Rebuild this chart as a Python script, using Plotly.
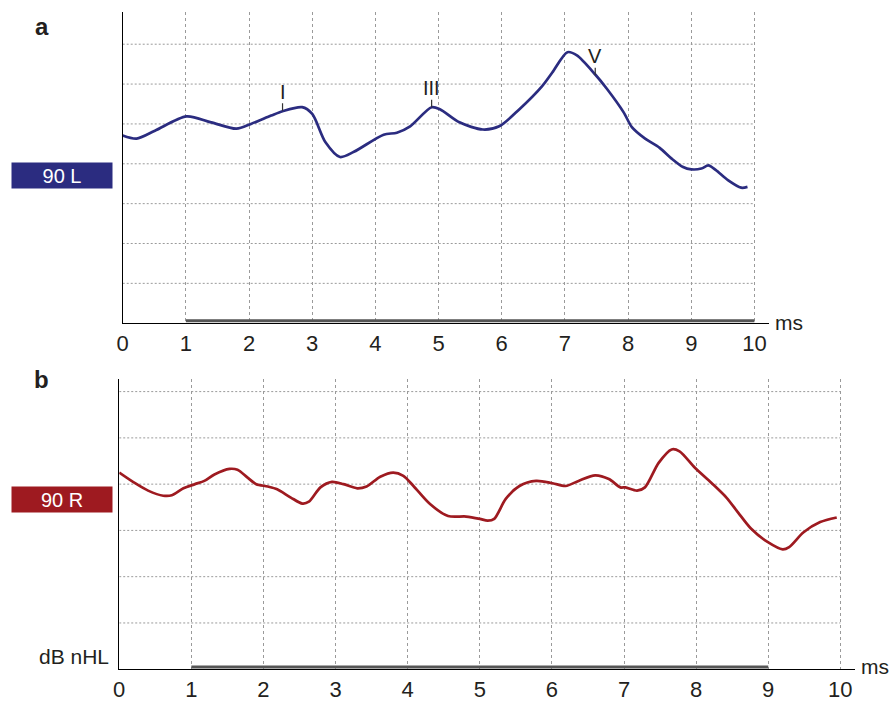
import plotly.graph_objects as go

# ---------------- data ----------------
tick_vals = [0, 1, 2, 3, 4, 5, 6, 7, 8, 9, 10]
tick_text = ["0", "1", "2", "3", "4", "5", "6", "7", "8", "9", "10"]

# panel a (90 dB nHL, left ear)
time_a = [0.0, 0.22, 0.51, 1.01, 1.40, 1.80, 2.03, 2.35, 2.53, 2.84, 3.00, 3.21, 3.44,
          3.66, 4.13, 4.34, 4.55, 4.89, 5.02, 5.33, 5.70, 5.96, 6.28, 6.64, 6.80, 7.04,
          7.19, 7.48, 7.67, 7.93, 8.06, 8.27, 8.50, 8.69, 8.87, 9.00, 9.16, 9.27, 9.39,
          9.58, 9.79, 9.89]
amp_a = [4.71, 4.63, 4.83, 5.19, 5.04, 4.88, 5.00, 5.21, 5.32, 5.42, 5.25, 4.54, 4.17,
         4.30, 4.73, 4.78, 4.94, 5.42, 5.37, 5.04, 4.86, 4.94, 5.37, 5.95, 6.29, 6.80,
         6.72, 6.24, 5.87, 5.29, 4.92, 4.63, 4.40, 4.13, 3.92, 3.86, 3.88, 3.96, 3.84,
         3.59, 3.40, 3.42]

# panel b (90 dB nHL, right ear)
time_b = [0.0, 0.22, 0.40, 0.61, 0.73, 0.89, 1.05, 1.18, 1.32, 1.53, 1.64, 1.78, 1.90,
          2.06, 2.19, 2.38, 2.54, 2.63, 2.79, 2.95, 3.11, 3.30, 3.43, 3.62, 3.80,
          3.94, 4.08, 4.31, 4.56, 4.81, 5.00, 5.11, 5.20, 5.36, 5.55, 5.78, 6.01, 6.19,
          6.37, 6.60, 6.79, 6.95, 7.02, 7.18, 7.29, 7.48, 7.66, 7.77, 7.98, 8.21, 8.42,
          8.58, 8.76, 8.99, 9.20, 9.29, 9.49, 9.72, 9.95]
amp_b = [4.25, 4.02, 3.86, 3.75, 3.76, 3.91, 4.00, 4.07, 4.21, 4.33, 4.31, 4.14, 4.00,
         3.95, 3.89, 3.71, 3.58, 3.62, 3.93, 4.05, 4.00, 3.91, 3.95, 4.16, 4.25,
         4.18, 3.96, 3.57, 3.31, 3.30, 3.25, 3.21, 3.25, 3.68, 3.96, 4.07, 4.02, 3.96,
         4.07, 4.19, 4.11, 3.93, 3.93, 3.86, 3.93, 4.46, 4.75, 4.71, 4.36, 4.03, 3.71,
         3.39, 3.04, 2.75, 2.59, 2.64, 2.96, 3.18, 3.28]

# wave labels in panel a
peak_names = ["I", "III", "V"]
peak_time = [2.53, 4.89, 7.48]
peak_amp = [5.33, 5.42, 6.22]

# analysis windows (ms)
window_a = [1, 10]
window_b = [1, 9]

grid_rows_a = [1, 2, 3, 4, 5, 6, 7]
grid_rows_b = [1, 2, 3, 4, 5, 6]

# ---------------- styling / layout ----------------
W, H = 892, 702
NAVY = "#2b2c80"
RED = "#9e1a20"
GRID = "#9a9a9a"
TXT = "#231f20"
FONT = "Liberation Sans, Arial, sans-serif"


def px_x(p):
    return p / W


def px_y(p):
    return 1 - p / H


fig = go.Figure()

fig.add_trace(go.Scatter(x=time_a, y=amp_a, mode="lines", xaxis="x", yaxis="y",
                         line=dict(color=NAVY, width=2.7, shape="spline", smoothing=0.8),
                         hoverinfo="skip", showlegend=False))
fig.add_trace(go.Scatter(x=time_b, y=amp_b, mode="lines", xaxis="x2", yaxis="y2",
                         line=dict(color=RED, width=2.7, shape="spline", smoothing=0.8),
                         hoverinfo="skip", showlegend=False))

# analysis-window bars just above the time axis
fig.add_trace(go.Scatter(x=window_a, y=[0.06] * 2, mode="lines", xaxis="x", yaxis="y",
                         line=dict(color="#555555", width=3), cliponaxis=False,
                         hoverinfo="skip", showlegend=False))
fig.add_trace(go.Scatter(x=window_b, y=[0.05] * 2, mode="lines", xaxis="x2", yaxis="y2",
                         line=dict(color="#555555", width=3), cliponaxis=False,
                         hoverinfo="skip", showlegend=False))

shapes = []
for k in grid_rows_a:
    shapes.append(dict(type="line", xref="x", yref="y", x0=tick_vals[0], x1=tick_vals[-1],
                       y0=k, y1=k, line=dict(color=GRID, width=1, dash="2px,2px"), layer="below"))
for k in grid_rows_b:
    shapes.append(dict(type="line", xref="x2", yref="y2", x0=tick_vals[0], x1=tick_vals[-1],
                       y0=k, y1=k, line=dict(color=GRID, width=1, dash="2px,2px"), layer="below"))

axis_common = dict(tickvals=tick_vals, ticktext=tick_text, showgrid=True, gridcolor=GRID,
                   griddash="3px,3px", gridwidth=1, showline=True, linecolor="black",
                   linewidth=1, zeroline=False, ticks="", fixedrange=True,
                   tickfont=dict(family=FONT, size=22, color=TXT))
yaxis_common = dict(showgrid=False, showticklabels=False, showline=True, linecolor="black",
                    linewidth=1, zeroline=False, ticks="", fixedrange=True)

# panel a: x0 at 117.5 px, 63.6 px/ms, axis to 768 px; y bottom 326, top 12, 40.2 px/unit
# panel b: x0 at 114 px, 72.6 px/ms, axis to 855 px; y bottom 675, top 382, 46.67 px/unit
fig.update_layout(
    width=W, height=H, margin=dict(l=0, r=0, t=0, b=0),
    paper_bgcolor="white", plot_bgcolor="white",
    xaxis=dict(domain=[px_x(117.5), px_x(768)], range=[0, (768 - 117.5) / 63.6],
               anchor="y", **axis_common),
    yaxis=dict(domain=[px_y(326), px_y(12)], range=[0, (326 - 12) / 40.2],
               anchor="x", **yaxis_common),
    xaxis2=dict(domain=[px_x(114), px_x(855)], range=[0, (855 - 114) / 72.6],
                anchor="y2", **axis_common),
    yaxis2=dict(domain=[px_y(675), px_y(382)], range=[0, (675 - 382) / 46.67],
                anchor="x2", **yaxis_common),
    shapes=shapes,
)

ann = []


def text_ann(text, x, y, size, color=TXT, xanchor="center", **kw):
    d = dict(text=text, xref="paper", yref="paper", x=px_x(x), y=px_y(y),
             xanchor=xanchor, yanchor="middle", showarrow=False,
             font=dict(family=FONT, size=size, color=color))
    d.update(kw)
    return d


# panel letters
ann.append(text_ann("<b>a</b>", 36, 27, 24))
ann.append(text_ann("<b>b</b>", 36, 383, 24))
# level boxes
ann.append(text_ann("90 L", 56, 177.5, 20, color="white", width=100, height=25,
                    borderpad=0, bgcolor=NAVY))
ann.append(text_ann("90 R", 56, 504, 20, color="white", width=100, height=25,
                    borderpad=0, bgcolor=RED))
ann.append(text_ann("dB nHL", 106, 662, 21, xanchor="right"))
# unit labels
ann.append(text_ann("ms", 772, 325, 21, xanchor="left"))
ann.append(text_ann("ms", 859, 672, 21, xanchor="left"))
# peak labels
for name, t, a in zip(peak_names, peak_time, peak_amp):
    ann.append(dict(text=name, xref="x", yref="y", x=t, y=a, showarrow=True,
                    arrowhead=0, arrowwidth=1.2, arrowcolor="#333333", ax=0, ay=-19,
                    standoff=0, borderpad=0, font=dict(family=FONT, size=20, color=TXT)))

fig.update_layout(annotations=ann)

fig.write_html("out.html", post_script="document.body.style.margin='0px';",
               config={"displayModeBar": False})
